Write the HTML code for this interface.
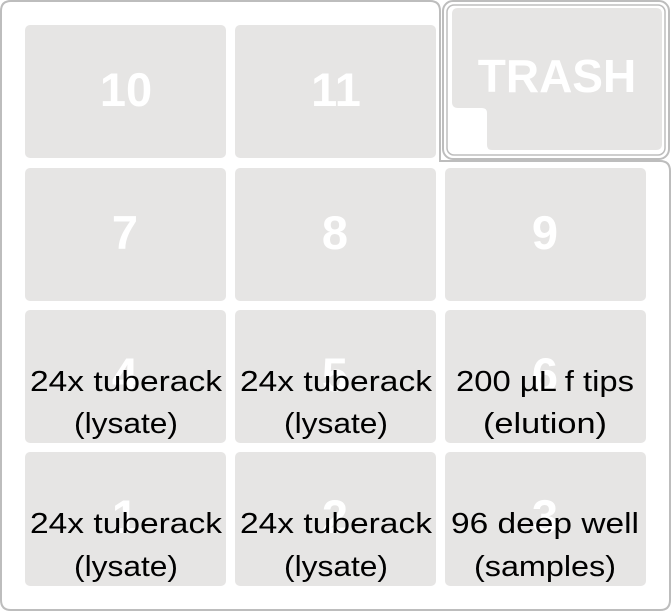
<!DOCTYPE html>
<html><head><style>html,body{margin:0;padding:0;background:#fff;}svg{display:block}</style></head>
<body>
<svg width="671" height="612" viewBox="0 0 671 612" xmlns="http://www.w3.org/2000/svg">
<path d="M11,1 H430 Q440,1 440,11 V161 H660 Q670,161 670,171 V600 Q670,610 660,610 H11 Q1,610 1,600 V11 Q1,1 11,1 Z" fill="none" stroke="#bdbdbd" stroke-width="2"/>
<rect x="443" y="1" width="226" height="158" rx="10" fill="#fff" stroke="#bdbdbd" stroke-width="2"/>
<rect x="447" y="5" width="218" height="150" rx="7" fill="none" stroke="#bdbdbd" stroke-width="1.5"/>
<path d="M458,8 H656 Q662,8 662,14 V144 Q662,150 656,150 H492 Q487,150 487,145 V113 Q487,108 482,108 H458 Q452,108 452,102 V14 Q452,8 458,8 Z" fill="#e6e5e4"/>
<text x="557" y="92" text-anchor="middle" font-family="Liberation Sans, sans-serif" font-weight="bold" font-size="46" fill="#fff">TRASH</text>
<g fill="#e6e5e4">
<rect x="25" y="25" width="201" height="133" rx="5"/>
<rect x="235" y="25" width="201" height="133" rx="5"/>
<rect x="25" y="168" width="201" height="133" rx="5"/>
<rect x="235" y="168" width="201" height="133" rx="5"/>
<rect x="445" y="168" width="201" height="133" rx="5"/>
<rect x="25" y="310" width="201" height="133" rx="5"/>
<rect x="235" y="310" width="201" height="133" rx="5"/>
<rect x="445" y="310" width="201" height="133" rx="5"/>
<rect x="25" y="452" width="201" height="134" rx="5"/>
<rect x="235" y="452" width="201" height="134" rx="5"/>
<rect x="445" y="452" width="201" height="134" rx="5"/>
</g>
<g font-family="Liberation Sans, sans-serif" font-weight="bold" font-size="47" fill="#fff" text-anchor="middle">
<text x="126" y="106">10</text><text x="336" y="106">11</text>
<text x="125" y="249">7</text><text x="335" y="249">8</text><text x="545" y="249">9</text>
<text x="125" y="391">4</text><text x="335" y="391">5</text><text x="545" y="391">6</text>
<text x="125" y="533">1</text><text x="335" y="533">2</text><text x="545" y="533">3</text>
</g>
<g font-family="Liberation Sans, sans-serif" font-size="29" fill="#000" text-anchor="middle">
<text x="126" y="391" textLength="192" lengthAdjust="spacingAndGlyphs">24x tuberack</text>
<text x="126" y="433" textLength="104" lengthAdjust="spacingAndGlyphs">(lysate)</text>
<text x="336" y="391" textLength="192" lengthAdjust="spacingAndGlyphs">24x tuberack</text>
<text x="336" y="433" textLength="104" lengthAdjust="spacingAndGlyphs">(lysate)</text>
<text x="545" y="391" textLength="178" lengthAdjust="spacingAndGlyphs">200 µL f tips</text>
<text x="545" y="433" textLength="124" lengthAdjust="spacingAndGlyphs">(elution)</text>
<text x="126" y="533" textLength="192" lengthAdjust="spacingAndGlyphs">24x tuberack</text>
<text x="126" y="576" textLength="104" lengthAdjust="spacingAndGlyphs">(lysate)</text>
<text x="336" y="533" textLength="192" lengthAdjust="spacingAndGlyphs">24x tuberack</text>
<text x="336" y="576" textLength="104" lengthAdjust="spacingAndGlyphs">(lysate)</text>
<text x="545" y="533" textLength="188" lengthAdjust="spacingAndGlyphs">96 deep well</text>
<text x="545" y="576" textLength="142" lengthAdjust="spacingAndGlyphs">(samples)</text>
</g>
</svg>
</body></html>
